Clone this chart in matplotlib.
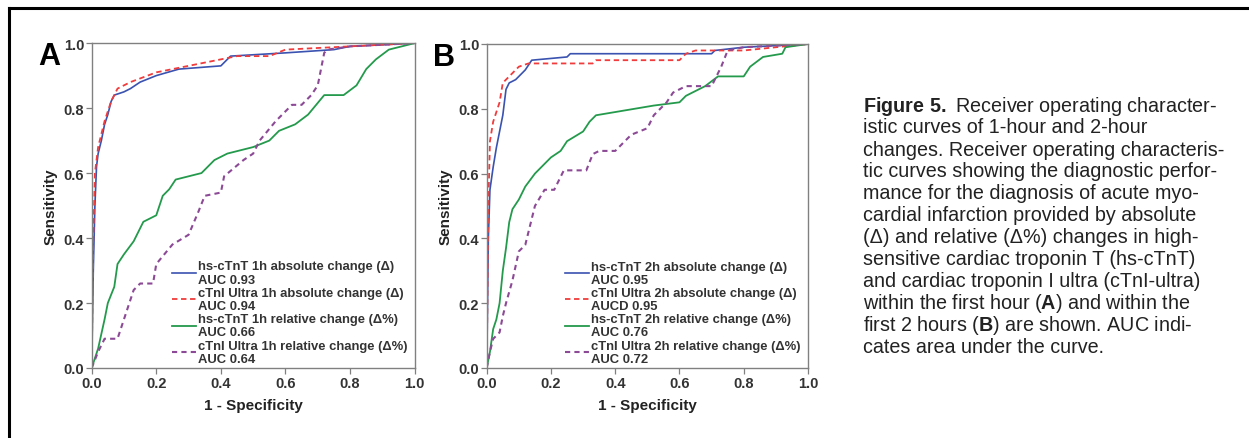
import matplotlib
matplotlib.use("Agg")
import matplotlib.pyplot as plt
from matplotlib.lines import Line2D

plt.rcParams['font.family'] = ['Liberation Sans', 'DejaVu Sans']
plt.rcParams['mathtext.fontset'] = 'custom'
plt.rcParams['mathtext.rm'] = 'Liberation Sans'
plt.rcParams['mathtext.bf'] = 'Liberation Sans:bold'

# ---- panel A: 1-hour changes (1 - specificity, sensitivity) ----
a_tnt_abs_x = [0, 0.005, 0.01, 0.015, 0.02, 0.03, 0.04, 0.05, 0.06, 0.07, 0.1, 0.12, 0.15, 0.2, 0.27, 0.4, 0.43, 0.6, 0.75, 0.8, 1.0]
a_tnt_abs_y = [0, 0.30, 0.50, 0.62, 0.66, 0.70, 0.75, 0.78, 0.82, 0.84, 0.85, 0.86, 0.88, 0.90, 0.92, 0.93, 0.96, 0.97, 0.98, 0.99, 1.0]

a_tni_abs_x = [0, 0.005, 0.01, 0.02, 0.04, 0.06, 0.08, 0.12, 0.2, 0.3, 0.4, 0.45, 0.55, 0.6, 0.8, 1.0]
a_tni_abs_y = [0, 0.40, 0.60, 0.68, 0.76, 0.82, 0.86, 0.88, 0.91, 0.93, 0.95, 0.96, 0.96, 0.98, 0.99, 1.0]

a_tnt_rel_x = [0, 0.02, 0.04, 0.05, 0.07, 0.08, 0.1, 0.13, 0.16, 0.2, 0.22, 0.24, 0.26, 0.34, 0.38, 0.42, 0.5, 0.55, 0.58, 0.63, 0.67, 0.72, 0.78, 0.82, 0.85, 0.88, 0.92, 1.0]
a_tnt_rel_y = [0, 0.06, 0.15, 0.20, 0.25, 0.32, 0.35, 0.39, 0.45, 0.47, 0.53, 0.55, 0.58, 0.60, 0.64, 0.66, 0.68, 0.70, 0.73, 0.75, 0.78, 0.84, 0.84, 0.87, 0.92, 0.95, 0.98, 1.0]

a_tni_rel_x = [0, 0.02, 0.04, 0.08, 0.1, 0.13, 0.15, 0.19, 0.2, 0.25, 0.3, 0.33, 0.35, 0.4, 0.41, 0.47, 0.5, 0.52, 0.57, 0.62, 0.65, 0.68, 0.7, 0.71, 0.72, 0.73, 0.8, 1.0]
a_tni_rel_y = [0, 0.05, 0.09, 0.09, 0.15, 0.24, 0.26, 0.26, 0.32, 0.38, 0.41, 0.48, 0.53, 0.54, 0.59, 0.64, 0.66, 0.70, 0.76, 0.81, 0.81, 0.84, 0.87, 0.92, 0.97, 0.98, 0.99, 1.0]

# ---- panel B: 2-hour changes ----
b_tnt_abs_x = [0, 0.005, 0.01, 0.02, 0.03, 0.04, 0.05, 0.06, 0.07, 0.09, 0.1, 0.12, 0.14, 0.25, 0.26, 0.7, 0.71, 0.8, 1.0]
b_tnt_abs_y = [0, 0.40, 0.55, 0.62, 0.68, 0.73, 0.78, 0.86, 0.88, 0.89, 0.90, 0.92, 0.95, 0.96, 0.97, 0.97, 0.98, 0.99, 1.0]

b_tni_abs_x = [0, 0.005, 0.01, 0.02, 0.04, 0.05, 0.07, 0.1, 0.13, 0.33, 0.34, 0.6, 0.62, 0.65, 0.8, 0.9, 1.0]
b_tni_abs_y = [0, 0.50, 0.70, 0.76, 0.82, 0.88, 0.90, 0.93, 0.94, 0.94, 0.95, 0.95, 0.97, 0.98, 0.98, 0.99, 1.0]

b_tnt_rel_x = [0, 0.01, 0.02, 0.03, 0.04, 0.05, 0.06, 0.07, 0.08, 0.1, 0.12, 0.15, 0.18, 0.2, 0.23, 0.25, 0.3, 0.32, 0.34, 0.4, 0.46, 0.52, 0.6, 0.62, 0.68, 0.72, 0.8, 0.82, 0.86, 0.92, 0.93, 1.0]
b_tnt_rel_y = [0, 0.05, 0.12, 0.15, 0.20, 0.30, 0.37, 0.45, 0.49, 0.52, 0.56, 0.60, 0.63, 0.65, 0.67, 0.70, 0.73, 0.76, 0.78, 0.79, 0.80, 0.81, 0.82, 0.84, 0.87, 0.90, 0.90, 0.93, 0.96, 0.97, 0.99, 1.0]

b_tni_rel_x = [0, 0.01, 0.02, 0.04, 0.05, 0.06, 0.08, 0.1, 0.12, 0.13, 0.15, 0.18, 0.21, 0.24, 0.31, 0.33, 0.35, 0.4, 0.45, 0.5, 0.52, 0.56, 0.58, 0.62, 0.7, 0.73, 0.75, 0.8, 1.0]
b_tni_rel_y = [0, 0.05, 0.09, 0.11, 0.16, 0.20, 0.27, 0.36, 0.38, 0.42, 0.50, 0.55, 0.55, 0.61, 0.61, 0.66, 0.67, 0.67, 0.72, 0.74, 0.78, 0.82, 0.85, 0.87, 0.87, 0.93, 0.98, 0.99, 1.0]

labels_a = ['hs-cTnT 1h absolute change (Δ)\nAUC 0.93',
            'cTnI Ultra 1h absolute change (Δ)\nAUC 0.94',
            'hs-cTnT 1h relative change (Δ%)\nAUC 0.66',
            'cTnI Ultra 1h relative change (Δ%)\nAUC 0.64']
labels_b = ['hs-cTnT 2h absolute change (Δ)\nAUC 0.95',
            'cTnI Ultra 2h absolute change (Δ)\nAUCD 0.95',
            'hs-cTnT 2h relative change (Δ%)\nAUC 0.76',
            'cTnI Ultra 2h relative change (Δ%)\nAUC 0.72']
ticks = [0.0, 0.2, 0.4, 0.6, 0.8, 1.0]

caption = [r'$\mathbf{Figure\ 5.}$ Receiver operating character-',
           'istic curves of 1-hour and 2-hour',
           'changes. Receiver operating characteris-',
           'tic curves showing the diagnostic perfor-',
           'mance for the diagnosis of acute myo-',
           'cardial infarction provided by absolute',
           '(Δ) and relative (Δ%) changes in high-',
           'sensitive cardiac troponin T (hs-cTnT)',
           'and cardiac troponin I ultra (cTnI-ultra)',
           r'within the first hour ($\mathbf{A}$) and within the',
           r'first 2 hours ($\mathbf{B}$) are shown. AUC indi-',
           'cates area under the curve.']

styles = [dict(color='#3a52b0', lw=1.2, ls='-'),
          dict(color='#f03c3c', lw=1.3, ls=(0, (3, 2))),
          dict(color='#249a4c', lw=1.3, ls='-'),
          dict(color='#8c4a96', lw=1.5, ls=(0, (2.5, 2)))]

fig = plt.figure(figsize=(12.49, 4.39), dpi=100)


def panel(rect, curves, labels, letter, leg_x):
    ax = fig.add_axes(rect)
    for (x, y), st, lab in zip(curves, styles, labels):
        ax.plot(x, y, label=lab, **st)
    ax.set_xlim(0, 1)
    ax.set_ylim(0, 1)
    ax.set_xticks(ticks)
    ax.set_yticks(ticks)
    ax.set_xticklabels(['%.1f' % t for t in ticks])
    ax.set_yticklabels(['%.1f' % t for t in ticks])
    for s in ax.spines.values():
        s.set_color('#808080')
        s.set_linewidth(1.0)
    ax.tick_params(direction='out', length=4, width=0.9, color='#808080',
                   labelsize=10.5, labelcolor='#333333', pad=1.5)
    for t in ax.get_xticklabels() + ax.get_yticklabels():
        t.set_fontweight('bold')
    ax.set_xlabel('1 - Specificity', fontsize=11, fontweight='bold', color='#222222', labelpad=6)
    ax.set_ylabel('Sensitivity', fontsize=11, fontweight='bold', color='#222222', labelpad=4)
    leg = ax.legend(loc='lower left', bbox_to_anchor=(leg_x, 0.01), frameon=False,
                    fontsize=9.4, handlelength=1.8, handletextpad=0.15,
                    labelspacing=0.1, borderpad=0, borderaxespad=0)
    for t in leg.get_texts():
        t.set_color('#333333')
        t.set_fontweight('bold')
        t.set_linespacing(1.12)
    ax.text(-0.098, 1.005, letter, transform=ax.transAxes, fontsize=22, fontweight='bold',
            ha='right', va='top', color='black')
    return ax


panel([0.0734, 0.1595, 0.2586, 0.740],
      [(a_tnt_abs_x, a_tnt_abs_y), (a_tni_abs_x, a_tni_abs_y),
       (a_tnt_rel_x, a_tnt_rel_y), (a_tni_rel_x, a_tni_rel_y)],
      labels_a, 'A', 0.25)
panel([0.3897, 0.1595, 0.2572, 0.738],
      [(b_tnt_abs_x, b_tnt_abs_y), (b_tni_abs_x, b_tni_abs_y),
       (b_tnt_rel_x, b_tnt_rel_y), (b_tni_rel_x, b_tni_rel_y)],
      labels_b, 'B', 0.245)

# caption block on the right
y0 = 1 - 106 / 439
dy = 22.0 / 439
for i, line in enumerate(caption):
    fig.text(863 / 1249, y0 - i * dy, line, fontsize=14.2, color='#222222',
             ha='left', va='center')

# frame lines (top and left) of the figure
fig.add_artist(Line2D([8.5 / 1249, 1], [1 - 8.5 / 439] * 2, color='black', lw=2.2,
                      transform=fig.transFigure))
fig.add_artist(Line2D([8.5 / 1249] * 2, [0, 1 - 8.5 / 439], color='black', lw=2.2,
                      transform=fig.transFigure))

fig.savefig('out.png', dpi=100)
